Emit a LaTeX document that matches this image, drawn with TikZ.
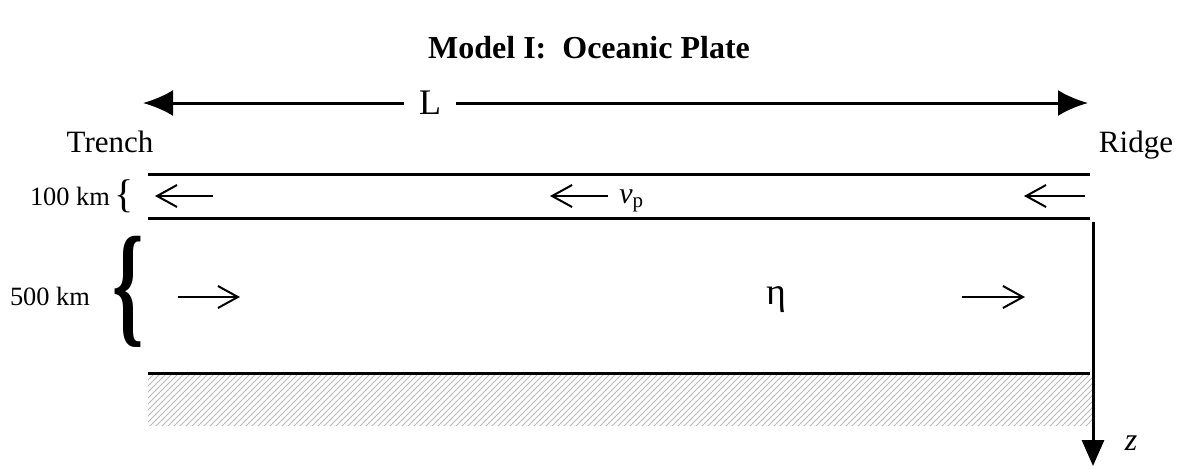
\documentclass[tikz,border=0pt]{standalone}
\usepackage{fontspec}
\setmainfont{Liberation Serif}
\usetikzlibrary{positioning, arrows.meta, patterns}

\tikzset{
    layer/.style={line width=1.5pt},
    flow/.style={line width=1pt, -{Straight Barb[length=10pt,width=11pt]}},
    lbl/.style={font=\fontsize{15.5}{18}\selectfont, inner sep=0pt},
    depth/.style={font=\fontsize{13.2}{15}\selectfont, inner sep=0pt},
}

\begin{document}
\begin{tikzpicture}[x=0.5pt, y=-0.5pt]
    \useasboundingbox (0,0) rectangle (1179,468);

    % title
    \node[lbl, font=\fontsize{16}{18}\selectfont\bfseries] (title) at (589,48) {Model I:\ \ Oceanic Plate};

    % length of the plate
    \node[lbl, font=\fontsize{18}{20}\selectfont] (len) at (430,103) {L};
    \coordinate (lenleft) at (143,103);
    \coordinate (lenright) at (1088,103);
    \draw[layer, -{Latex[length=15pt,width=13pt]}] ([xshift=-7.5pt]len.west) -- (lenleft);
    \draw[layer, -{Latex[length=15pt,width=13pt]}] ([xshift=7.5pt]len.east) -- (lenright);
    \node[lbl, anchor=base] (trench) at (110,152) {Trench};
    \node[lbl, anchor=base] (ridge) at (1136,152) {Ridge};

    % layers
    \coordinate (topl) at (148,174);   \coordinate (topr) at (1090,174);
    \coordinate (midl) at (148,218);   \coordinate (midr) at (1090,218);
    \coordinate (botl) at (148,373);   \coordinate (botr) at (1090,373);
    \fill[pattern=north east lines, pattern color=gray!55] (148,375) rectangle (1092,425);
    \draw[layer] (topl) -- (topr);
    \draw[layer] (midl) -- (midr);
    \draw[layer] (botl) -- (botr);

    % plate arrows
    \foreach \xa/\xb [count=\i] in {213/155, 608/550, 1085/1024} {
        \coordinate (pa\i) at (\xa,196);
        \coordinate (pb\i) at (\xb,196);
        \draw[flow] (pa\i) -- (pb\i);
    }
    \node[anchor=base west, font=\fontsize{15}{18}\selectfont, inner sep=0pt] (vp) at (619,203) {\textit{v}\textsubscript{p}};

    % mantle arrows
    \foreach \xa/\xb [count=\i] in {178/240, 962/1025} {
        \coordinate (ma\i) at (\xa,297);
        \coordinate (mb\i) at (\xb,297);
        \draw[flow] (ma\i) -- (mb\i);
    }
    \node[font=\fontsize{19}{20}\selectfont, inner sep=0pt] (eta) at (776,300) {η};

    % thicknesses
    \node[depth] (plate) at (70,196) {100 km};
    \node[font=\fontsize{20}{20}\selectfont, inner sep=0pt] (pbrace) at (124,196) {\{};
    \node[depth] (mantle) at (50,296) {500 km};
    \node[font=\fontsize{40}{40}\selectfont\bfseries, inner sep=0pt, yscale=1.68] (mbrace) at (128,292) {\{};

    % depth axis
    \coordinate (ztop) at (1093,222);
    \coordinate (zbot) at (1093,466);
    \draw[layer, -{Triangle[length=13pt,width=11pt]}] (ztop) -- (zbot);
    \node[font=\fontsize{16}{18}\selectfont\itshape, inner sep=0pt] (zlbl) at (1131,443) {z};
\end{tikzpicture}
\end{document}
